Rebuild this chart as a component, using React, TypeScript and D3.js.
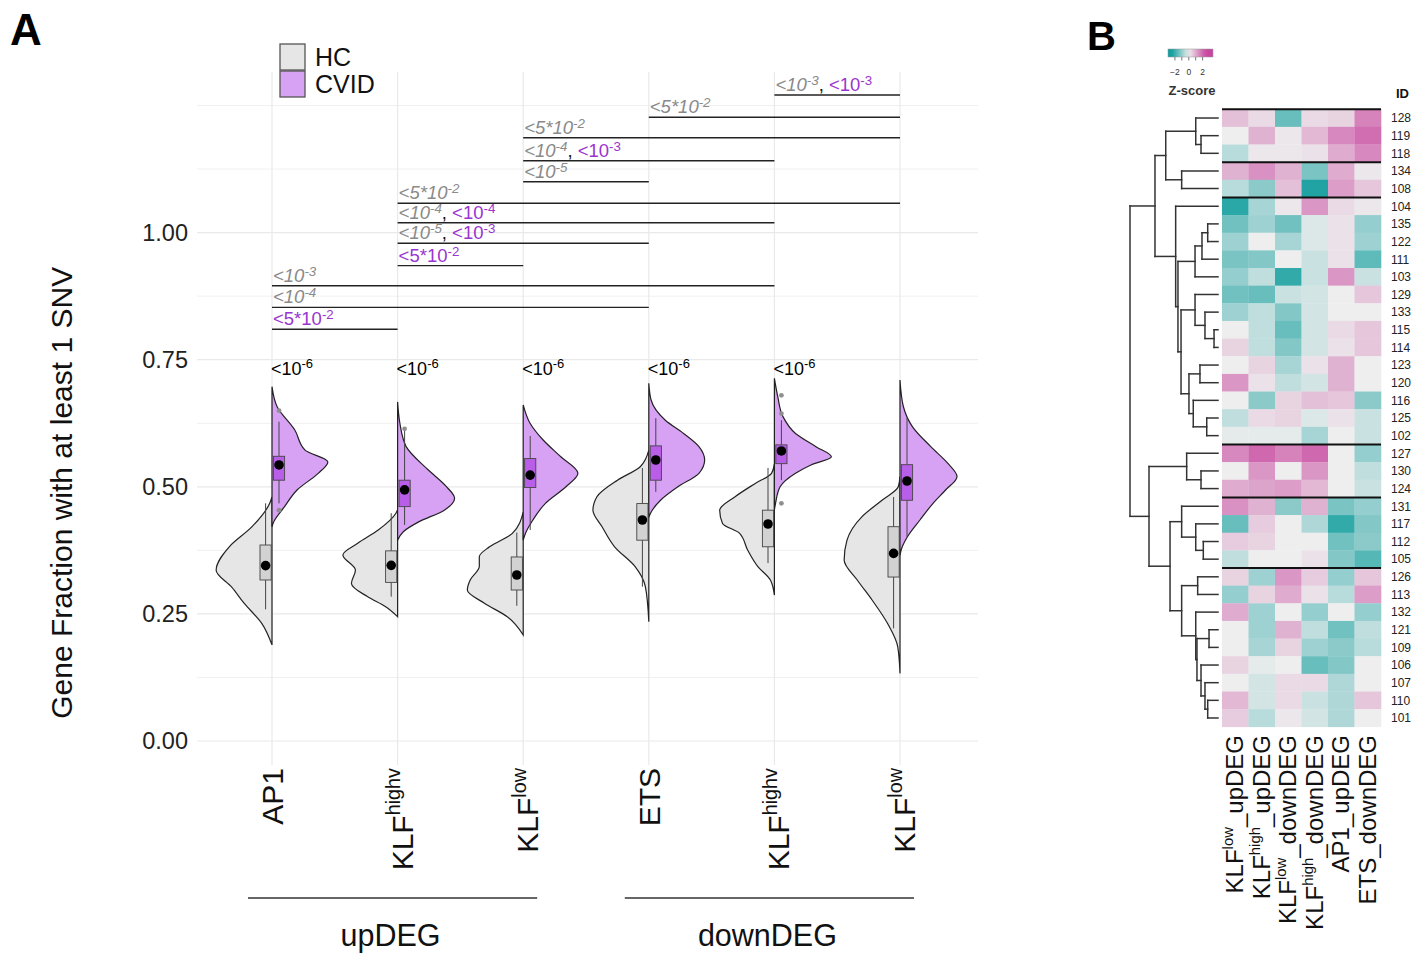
import React from 'react';
import * as d3 from 'd3';

// ---------- Panel A data ----------
const cats = ['AP1_up', 'KLFhighv_up', 'KLFlow_up', 'ETS_down', 'KLFhighv_down', 'KLFlow_down'];
const catBase = ['AP1', 'KLF', 'KLF', 'ETS', 'KLF', 'KLF'];
const catSup = ['', 'highv', 'low', '', 'highv', 'low'];
const groups = [
  { name: 'upDEG', from: 0, to: 2 },
  { name: 'downDEG', from: 3, to: 5 },
];
const yTicks = [0, 0.25, 0.5, 0.75, 1.0];
const yMinor = [0.125, 0.375, 0.625, 0.875, 1.125, 1.25];

// half-violin profiles: [value, relative density]
const hcDensity: [number, number][][] = [
  [[0.48, 0], [0.4675, 0.04], [0.4215, 0.35], [0.382, 0.75], [0.336, 0.98], [0.303, 0.71], [0.271, 0.49], [0.2315, 0.18], [0.189, 0]],
  [[0.455, 0], [0.448, 0.03], [0.415, 0.34], [0.389, 0.7], [0.366, 0.96], [0.336, 0.74], [0.31, 0.81], [0.284, 0.53], [0.264, 0.21], [0.2445, 0]],
  [[0.45, 0], [0.4085, 0.19], [0.382, 0.59], [0.3625, 0.77], [0.343, 0.77], [0.3167, 0.93], [0.297, 0.98], [0.271, 0.68], [0.2445, 0.28], [0.2085, 0]],
  [[0.572, 0], [0.5395, 0.15], [0.513, 0.55], [0.4805, 0.91], [0.454, 0.98], [0.4215, 0.82], [0.382, 0.6], [0.343, 0.24], [0.3035, 0.06], [0.2347, 0]],
  [[0.545, 0], [0.5265, 0.05], [0.507, 0.33], [0.4805, 0.69], [0.454, 0.96], [0.428, 0.91], [0.4085, 0.61], [0.3757, 0.47], [0.343, 0.29], [0.3167, 0.07], [0.287, 0]],
  [[0.52, 0], [0.5, 0.03], [0.474, 0.31], [0.441, 0.67], [0.395, 0.93], [0.356, 0.98], [0.3167, 0.75], [0.2773, 0.49], [0.2315, 0.22], [0.1855, 0.04], [0.133, 0]],
];
const cvidDensity: [number, number][][] = [
  [[0.697, 0], [0.6575, 0.09], [0.6117, 0.4], [0.572, 0.58], [0.549, 0.98], [0.5265, 0.81], [0.4937, 0.44], [0.461, 0.22], [0.431, 0.03], [0.4215, 0]],
  [[0.667, 0], [0.625, 0.04], [0.579, 0.15], [0.533, 0.54], [0.5, 0.86], [0.4774, 1.0], [0.454, 0.82], [0.431, 0.37], [0.4117, 0.1], [0.395, 0]],
  [[0.661, 0], [0.625, 0.12], [0.592, 0.35], [0.559, 0.66], [0.5265, 0.96], [0.5, 0.75], [0.4675, 0.39], [0.4347, 0.17], [0.4085, 0.04], [0.395, 0]],
  [[0.7036, 0], [0.6707, 0.04], [0.631, 0.29], [0.605, 0.61], [0.579, 0.88], [0.5527, 0.98], [0.5265, 0.88], [0.5, 0.51], [0.474, 0.21], [0.448, 0.03], [0.44, 0]],
  [[0.7134, 0], [0.677, 0.06], [0.638, 0.15], [0.605, 0.37], [0.579, 0.73], [0.559, 1.0], [0.543, 0.64], [0.5265, 0.37], [0.5, 0.1], [0.4675, 0.02], [0.455, 0]],
  [[0.71, 0], [0.6575, 0.06], [0.618, 0.22], [0.579, 0.54], [0.546, 0.84], [0.52, 1.0], [0.4937, 0.8], [0.4675, 0.58], [0.4347, 0.35], [0.4018, 0.13], [0.3757, 0.02], [0.365, 0]],
];
// box stats: [lower whisker, q1, median, q3, upper whisker]
const hcBox = [
  [0.259, 0.3167, 0.345, 0.3855, 0.4675],
  [0.284, 0.312, 0.3455, 0.374, 0.448],
  [0.266, 0.297, 0.3265, 0.362, 0.41],
  [0.3035, 0.395, 0.4347, 0.467, 0.537],
  [0.35, 0.382, 0.4268, 0.454, 0.537],
  [0.2216, 0.3225, 0.369, 0.4215, 0.48],
];
const cvidBox = [
  [0.4675, 0.513, 0.543, 0.56, 0.628],
  [0.425, 0.461, 0.494, 0.513, 0.612],
  [0.415, 0.4985, 0.523, 0.5555, 0.6],
  [0.49, 0.513, 0.5527, 0.5805, 0.635],
  [0.513, 0.5455, 0.5705, 0.5825, 0.631],
  [0.4018, 0.4735, 0.5114, 0.5435, 0.6355],
];
const cvidOutliers = [[0.65, 0.454], [0.614], [], [], [0.68, 0.644, 0.4675], []];
const withinP = ['<10^-6', '<10^-6', '<10^-6', '<10^-6', '<10^-6', ''];
const withinPos = 0.72;

// between-motif comparisons: [from, to, HC p, CVID p, y position]
const comparisons: [number, number, string, string, number][] = [
  [4, 5, '<10^-3', '<10^-3', 1.2707],
  [3, 5, '<5*10^-2', '', 1.2268],
  [2, 5, '<5*10^-2', '', 1.1867],
  [2, 4, '<10^-4', '<10^-3', 1.1414],
  [2, 3, '<10^-5', '', 1.1001],
  [1, 5, '<5*10^-2', '', 1.0576],
  [1, 4, '<10^-4', '<10^-4', 1.0195],
  [1, 3, '<10^-5', '<10^-3', 0.979],
  [1, 2, '', '<5*10^-2', 0.935],
  [0, 4, '<10^-3', '', 0.8956],
  [0, 3, '<10^-4', '', 0.853],
  [0, 1, '', '<5*10^-2', 0.81],
];

// ---------- Panel B data ----------
const hmCols = [
  { base: 'KLF', sup: 'low', rest: '_upDEG' },
  { base: 'KLF', sup: 'high', rest: '_upDEG' },
  { base: 'KLF', sup: 'low', rest: '_downDEG' },
  { base: 'KLF', sup: 'high', rest: '_downDEG' },
  { base: 'AP1_upDEG', sup: '', rest: '' },
  { base: 'ETS_downDEG', sup: '', rest: '' },
];
const rowIds = ['128', '119', '118', '134', '108', '104', '135', '122', '111', '103', '129', '133', '115', '114', '123', '120', '116', '125', '102', '127', '130', '124', '131', '117', '112', '105', '126', '113', '132', '121', '109', '106', '107', '110', '101'];
const zScores = [
  [0.7, 0.3, -1.5, 0.3, 0.4, 1.6],
  [0.0, 0.9, 0.1, 0.8, 1.5, 1.9],
  [-0.6, 0.1, 0.1, 0.2, 1.0, 1.5],
  [0.9, 1.4, 0.9, -1.3, 1.0, 0.1],
  [-0.6, -1.1, 0.7, -2.3, 1.2, 0.6],
  [-2.2, -0.8, 0.1, 1.3, 0.3, 0.1],
  [-1.4, -0.9, -1.4, -0.2, 0.2, -1.0],
  [-0.9, 0.0, -0.8, -0.2, 0.2, -0.9],
  [-1.3, -1.2, 0.0, -0.4, 0.2, -1.6],
  [-1.0, -0.5, -2.1, -0.4, 1.3, -0.4],
  [-1.4, -1.5, -0.4, -0.3, 0.0, 0.6],
  [-0.9, -0.5, -1.2, -0.3, 0.0, 0.0],
  [0.0, -0.5, -1.5, -0.3, 0.3, 0.6],
  [0.4, -0.5, -1.2, -0.3, 0.2, 0.6],
  [0.0, 0.4, -0.8, 0.2, 0.9, 0.0],
  [1.3, 0.2, -0.5, -0.3, 0.9, 0.0],
  [0.0, -1.1, 0.4, 0.7, 0.6, -1.1],
  [-0.5, 0.3, 0.4, -0.2, 0.2, -0.4],
  [-0.1, -0.1, -0.1, -0.8, 0.0, -0.4],
  [1.5, 2.0, 1.6, 2.0, 0.0, -1.0],
  [0.0, 1.3, 0.0, 1.3, 0.0, -0.5],
  [1.0, 1.1, 1.2, 0.8, 0.0, -0.4],
  [1.4, 0.9, -1.1, 0.9, -1.3, -1.0],
  [-1.5, 0.5, 0.0, -0.7, -2.1, -1.2],
  [0.5, 0.4, 0.0, 0.0, -1.4, -1.1],
  [-0.5, 0.0, 0.0, 0.2, -1.2, -1.7],
  [0.4, -0.9, 1.3, 0.5, -1.0, 0.6],
  [-1.0, 0.4, 1.0, 0.2, -0.6, 1.2],
  [1.0, -0.9, 0.0, -1.0, 0.0, -1.0],
  [0.0, -0.9, 0.9, -0.5, -1.4, -0.5],
  [0.0, -0.8, 0.4, -0.9, -1.1, -0.6],
  [0.4, -0.1, 0.0, -1.5, -1.2, 0.0],
  [0.0, -0.3, 0.3, 0.3, -0.7, 0.0],
  [0.8, -0.3, 0.3, -0.4, -0.7, 0.6],
  [0.5, -0.6, 0.1, -0.3, -0.7, 0.0],
];
const rowBreaks = [0, 3, 5, 19, 22, 26];
const zTicks = [-2, -1, 0, 1, 2];
const zTickLabels = [-2, 0, 2];

type Tree = string | [number, Tree, Tree];
const dendro: Tree = [10.0,
  [7.16,
    [5.94, [2.53, '128', [1.93, '119', '118']], [4.13, '134', '108']],
    [4.81, '104', [4.55,
      [2.61, [1.82, [1.17, '135', '122'], '111'], '103'],
      [4.2, [2.61, '129', [1.48, '133', [0.45, '115', '114']]],
        [3.3, [2.05, '123', '120'], [2.81, '116', [1.28, '125', '102']]]]]]],
  [7.84,
    [3.56, '127', [1.93, '130', '124']],
    [5.45,
      [4.13, '131', [2.53, '117', [1.67, '112', '105']]],
      [4.13, [2.31, '126', '113'],
        [2.53, '132', [2.39, [1.02, '121', '109'], [1.93, '106', [1.48, '107', [1.17, '110', '101']]]]]]]],
];

// ---------- styling ----------
const FONT = '"Liberation Sans", Arial, Helvetica, sans-serif';
const GREY_P = '#8a8a8a';
const PURPLE_P = '#9a35d0';
const HC_FILL = '#e6e6e6';
const CVID_FILL = '#d7a2f4';

type Seg = { t: string; sup?: boolean; fill?: string; italic?: boolean };

function RichText(props: {
  segs: Seg[]; size: number; x?: number; y?: number; anchor?: string;
  transform?: string; fill?: string; weight?: string | number; supScale?: number; rise?: number;
}) {
  const { segs, size, x = 0, y = 0, anchor = 'start', transform, fill = '#111', weight, supScale = 0.68, rise = 0.42 } = props;
  const shift = size * rise;
  let raised = false;
  return (
    <text x={x} y={y} fontSize={size} textAnchor={anchor} transform={transform} fill={fill} fontWeight={weight}>
      {segs.map((s, i) => {
        let dy = 0;
        if (s.sup && !raised) { dy = -shift; raised = true; }
        else if (!s.sup && raised) { dy = shift; raised = false; }
        return (
          <tspan key={i} dy={dy || undefined} fontSize={s.sup ? size * supScale : undefined}
            fill={s.fill} fontStyle={s.italic ? 'italic' : undefined}>{s.t}</tspan>
        );
      })}
    </text>
  );
}

const parseP = (s: string, fill?: string, italic?: boolean): Seg[] => {
  const [b, e] = s.split('^');
  return [{ t: b, fill, italic }, { t: e, sup: true, fill, italic }];
};

function PanelA() {
  const x = d3.scalePoint<string>().domain(cats).range([272, 900]);
  const y = d3.scaleLinear().domain([0, 1]).range([741, 232.6]);
  const w = d3.scaleLinear().domain([0, 1]).range([0, 57]);
  const left = 197, right = 978, top = 72, bottom = 765;

  const halfViolin = (cx: number, dir: number) =>
    d3.area<[number, number]>()
      .curve(d3.curveMonotoneY)
      .y(d => y(d[0]))
      .x0(cx)
      .x1(d => cx + dir * w(d[1]));

  const box = (cx: number, stats: number[], fill: string, key: string) => {
    const [lo, q1, med, q3, hi] = stats;
    return (
      <g key={key}>
        <line x1={cx} x2={cx} y1={y(hi)} y2={y(q3)} stroke="#444" strokeWidth={1} />
        <line x1={cx} x2={cx} y1={y(q1)} y2={y(lo)} stroke="#444" strokeWidth={1} />
        <rect x={cx - 5.6} width={11.2} y={y(q3)} height={y(q1) - y(q3)} fill={fill} stroke="#444" strokeWidth={0.9} />
        <circle cx={cx} cy={y(med)} r={4.8} fill="#000" />
      </g>
    );
  };

  return (
    <g fontFamily={FONT}>
      <text x={10} y={45} fontSize={44} fontWeight="bold" fill="#000">A</text>
      {/* grid */}
      {yMinor.map(v => (
        <line key={'m' + v} x1={left} x2={right} y1={y(v)} y2={y(v)} stroke="#f0f0f0" strokeWidth={1} />
      ))}
      {yTicks.map(v => (
        <line key={'g' + v} x1={left} x2={right} y1={y(v)} y2={y(v)} stroke="#e9e9e9" strokeWidth={1.2} />
      ))}
      {cats.map(c => (
        <line key={'v' + c} x1={x(c)} x2={x(c)} y1={top} y2={bottom} stroke="#e9e9e9" strokeWidth={1.2} />
      ))}
      {/* y axis labels */}
      {yTicks.map(v => (
        <text key={'t' + v} x={188} y={y(v)} dy="0.36em" textAnchor="end" fontSize={23.5} fill="#222">
          {d3.format('.2f')(v)}
        </text>
      ))}
      <text transform={`translate(72,${y(0.5) + 6}) rotate(-90)`} textAnchor="middle" fontSize={30} fill="#111">
        Gene Fraction with at least 1 SNV
      </text>

      {/* violins */}
      {cats.map((c, i) => {
        const cx = x(c)!;
        return (
          <g key={'vio' + c}>
            <path d={halfViolin(cx, -1)(hcDensity[i]) || ''} fill={HC_FILL} stroke="#222" strokeWidth={1.2} />
            <path d={halfViolin(cx, 1)(cvidDensity[i]) || ''} fill={CVID_FILL} stroke="#222" strokeWidth={1.2} />
          </g>
        );
      })}
      {cats.map((c, i) => {
        const cx = x(c)!;
        return (
          <g key={'box' + c}>
            {box(cx - 6.4, hcBox[i], '#d2d2d2', 'h')}
            {box(cx + 7, cvidBox[i], '#b95ee8', 'c')}
            {cvidOutliers[i].map((o, j) => (
              <circle key={j} cx={cx + 7} cy={y(o)} r={2.4} fill="#8f8f8f" />
            ))}
          </g>
        );
      })}

      {/* within-motif p values */}
      {cats.map((c, i) => withinP[i] ? (
        <RichText key={'wp' + c} x={x(c)! - 1} y={y(withinPos)} size={18} supScale={0.72} rise={0.38}
          segs={parseP(withinP[i], '#000')} />
      ) : null)}

      {/* comparisons */}
      {comparisons.map(([a, b, hp, cp, pos], i) => {
        const x1 = x(cats[a])!, x2 = x(cats[b])!;
        const segs: Seg[] = [];
        if (hp) segs.push(...parseP(hp, GREY_P, true));
        if (hp && cp) segs.push({ t: ', ', fill: '#111' });
        if (cp) segs.push(...parseP(cp, PURPLE_P, false));
        return (
          <g key={'cmp' + i}>
            <line x1={x1} x2={x2} y1={y(pos)} y2={y(pos)} stroke="#222" strokeWidth={1.4} />
            <RichText x={x1 + 1} y={y(pos) - 4} size={18.5} supScale={0.72} rise={0.33} segs={segs} />
          </g>
        );
      })}

      {/* legend */}
      <rect x={280} y={44} width={25} height={26} fill={HC_FILL} stroke="#555" strokeWidth={1.3} />
      <rect x={280} y={71} width={25} height={26} fill={CVID_FILL} stroke="#555" strokeWidth={1.3} />
      <text x={315} y={66} fontSize={25} fill="#111">HC</text>
      <text x={315} y={93} fontSize={25} fill="#111">CVID</text>

      {/* x labels */}
      {cats.map((c, i) => (
        <RichText key={'xl' + c} size={30} anchor="end" supScale={0.66}
          transform={`translate(${x(c)! + (catSup[i] ? 15 : 11)},768) rotate(-90)`}
          segs={catSup[i] ? [{ t: catBase[i] }, { t: catSup[i], sup: true }] : [{ t: catBase[i] }]} />
      ))}
      {groups.map(g => {
        const x1 = x(cats[g.from])! - 24, x2 = x(cats[g.to])! + 14;
        return (
          <g key={g.name}>
            <line x1={x1} x2={x2} y1={898} y2={898} stroke="#333" strokeWidth={1.4} />
            <text x={(x1 + x2) / 2 - 2} y={946} textAnchor="middle" fontSize={30.5} fill="#111">{g.name}</text>
          </g>
        );
      })}
    </g>
  );
}

function PanelB() {
  const cx = d3.scaleBand<number>().domain(d3.range(hmCols.length)).range([1222, 1381]);
  const cy = d3.scaleBand<string>().domain(rowIds).range([109.2, 726.8]);
  const zColor = d3.scaleLinear<string>().domain([-2.5, 0, 2.5])
    .range(['#0f9d9d', '#eeeeee', '#c8469f']).clamp(true);
  const hx = d3.scaleLinear().domain([0, 10]).range([1218, 1130]);
  const barX = d3.scaleLinear().domain([-3, 3.5]).range([1168, 1213]);

  // dendrogram segments
  const segs: [number, number, number, number][] = [];
  const walk = (n: Tree): { y: number; h: number } => {
    if (typeof n === 'string') return { y: cy(n)! + cy.bandwidth() / 2, h: 0 };
    const [h, a, b] = n;
    const ca = walk(a), cb = walk(b);
    segs.push([hx(h), ca.y, hx(h), cb.y]);
    segs.push([hx(h), ca.y, hx(ca.h), ca.y]);
    segs.push([hx(h), cb.y, hx(cb.h), cb.y]);
    return { y: (ca.y + cb.y) / 2, h };
  };
  walk(dendro);

  const gradStops = d3.range(0, 1.0001, 0.1).map(t => ({ t, c: zColor(barX.invert(1168 + t * 45)) }));

  return (
    <g fontFamily={FONT}>
      <text x={1087} y={50} fontSize={40} fontWeight="bold" fill="#000">B</text>
      <defs>
        <linearGradient id="zgrad" x1="0" x2="1" y1="0" y2="0">
          {gradStops.map(s => <stop key={s.t} offset={s.t} stopColor={s.c} />)}
        </linearGradient>
      </defs>
      <rect x={barX(-3)} y={49} width={barX(3.5) - barX(-3)} height={8} fill="url(#zgrad)" stroke="#999" strokeWidth={0.5} />
      {zTicks.map(t => (
        <line key={'zt' + t} x1={barX(t)} x2={barX(t)} y1={57} y2={60.5} stroke="#555" strokeWidth={0.8} />
      ))}
      {zTickLabels.map(t => (
        <text key={'zl' + t} x={barX(t)} y={75} textAnchor="middle" fontSize={8.5} fill="#333">{t === -2 ? '\u22122' : t}</text>
      ))}
      <text x={1192} y={95} textAnchor="middle" fontSize={13} fontWeight="bold" fill="#333">Z-score</text>
      <text x={1396} y={98} fontSize={13} fontWeight="bold" fill="#111">ID</text>

      {rowIds.map((id, r) => zScores[r].map((z, c) => (
        <rect key={id + '_' + c} x={cx(c)} y={cy(id)} width={cx.bandwidth() + 0.3} height={cy.bandwidth() + 0.3} fill={zColor(z)} />
      )))}
      {rowBreaks.map(b => {
        const yy = cy(rowIds[b])!;
        return <line key={'rb' + b} x1={1222} x2={1381} y1={yy} y2={yy} stroke="#111" strokeWidth={2} />;
      })}
      {rowIds.map(id => (
        <text key={'rl' + id} x={1391} y={cy(id)! + cy.bandwidth() / 2} dy="0.36em" fontSize={12} fill="#222">{id}</text>
      ))}
      {segs.map((s, i) => (
        <line key={'d' + i} x1={s[0]} y1={s[1]} x2={s[2]} y2={s[3]} stroke="#333" strokeWidth={1.5} strokeLinecap="square" />
      ))}
      {hmCols.map((c, i) => {
        const segsT: Seg[] = c.sup ? [{ t: c.base }, { t: c.sup, sup: true }, { t: c.rest }] : [{ t: c.base }];
        return (
          <RichText key={'hc' + i} size={24} anchor="end" supScale={0.62}
            transform={`translate(${cx(i)! + cx.bandwidth() / 2 + 8},735) rotate(-90)`} segs={segsT} />
        );
      })}
    </g>
  );
}

export default function App() {
  return (
    <div style={{ position: 'absolute', left: 0, top: 0 }}>
      <svg width={1417} height={957} style={{ display: 'block', background: '#fff' }}>
        <PanelA />
        <PanelB />
      </svg>
    </div>
  );
}
